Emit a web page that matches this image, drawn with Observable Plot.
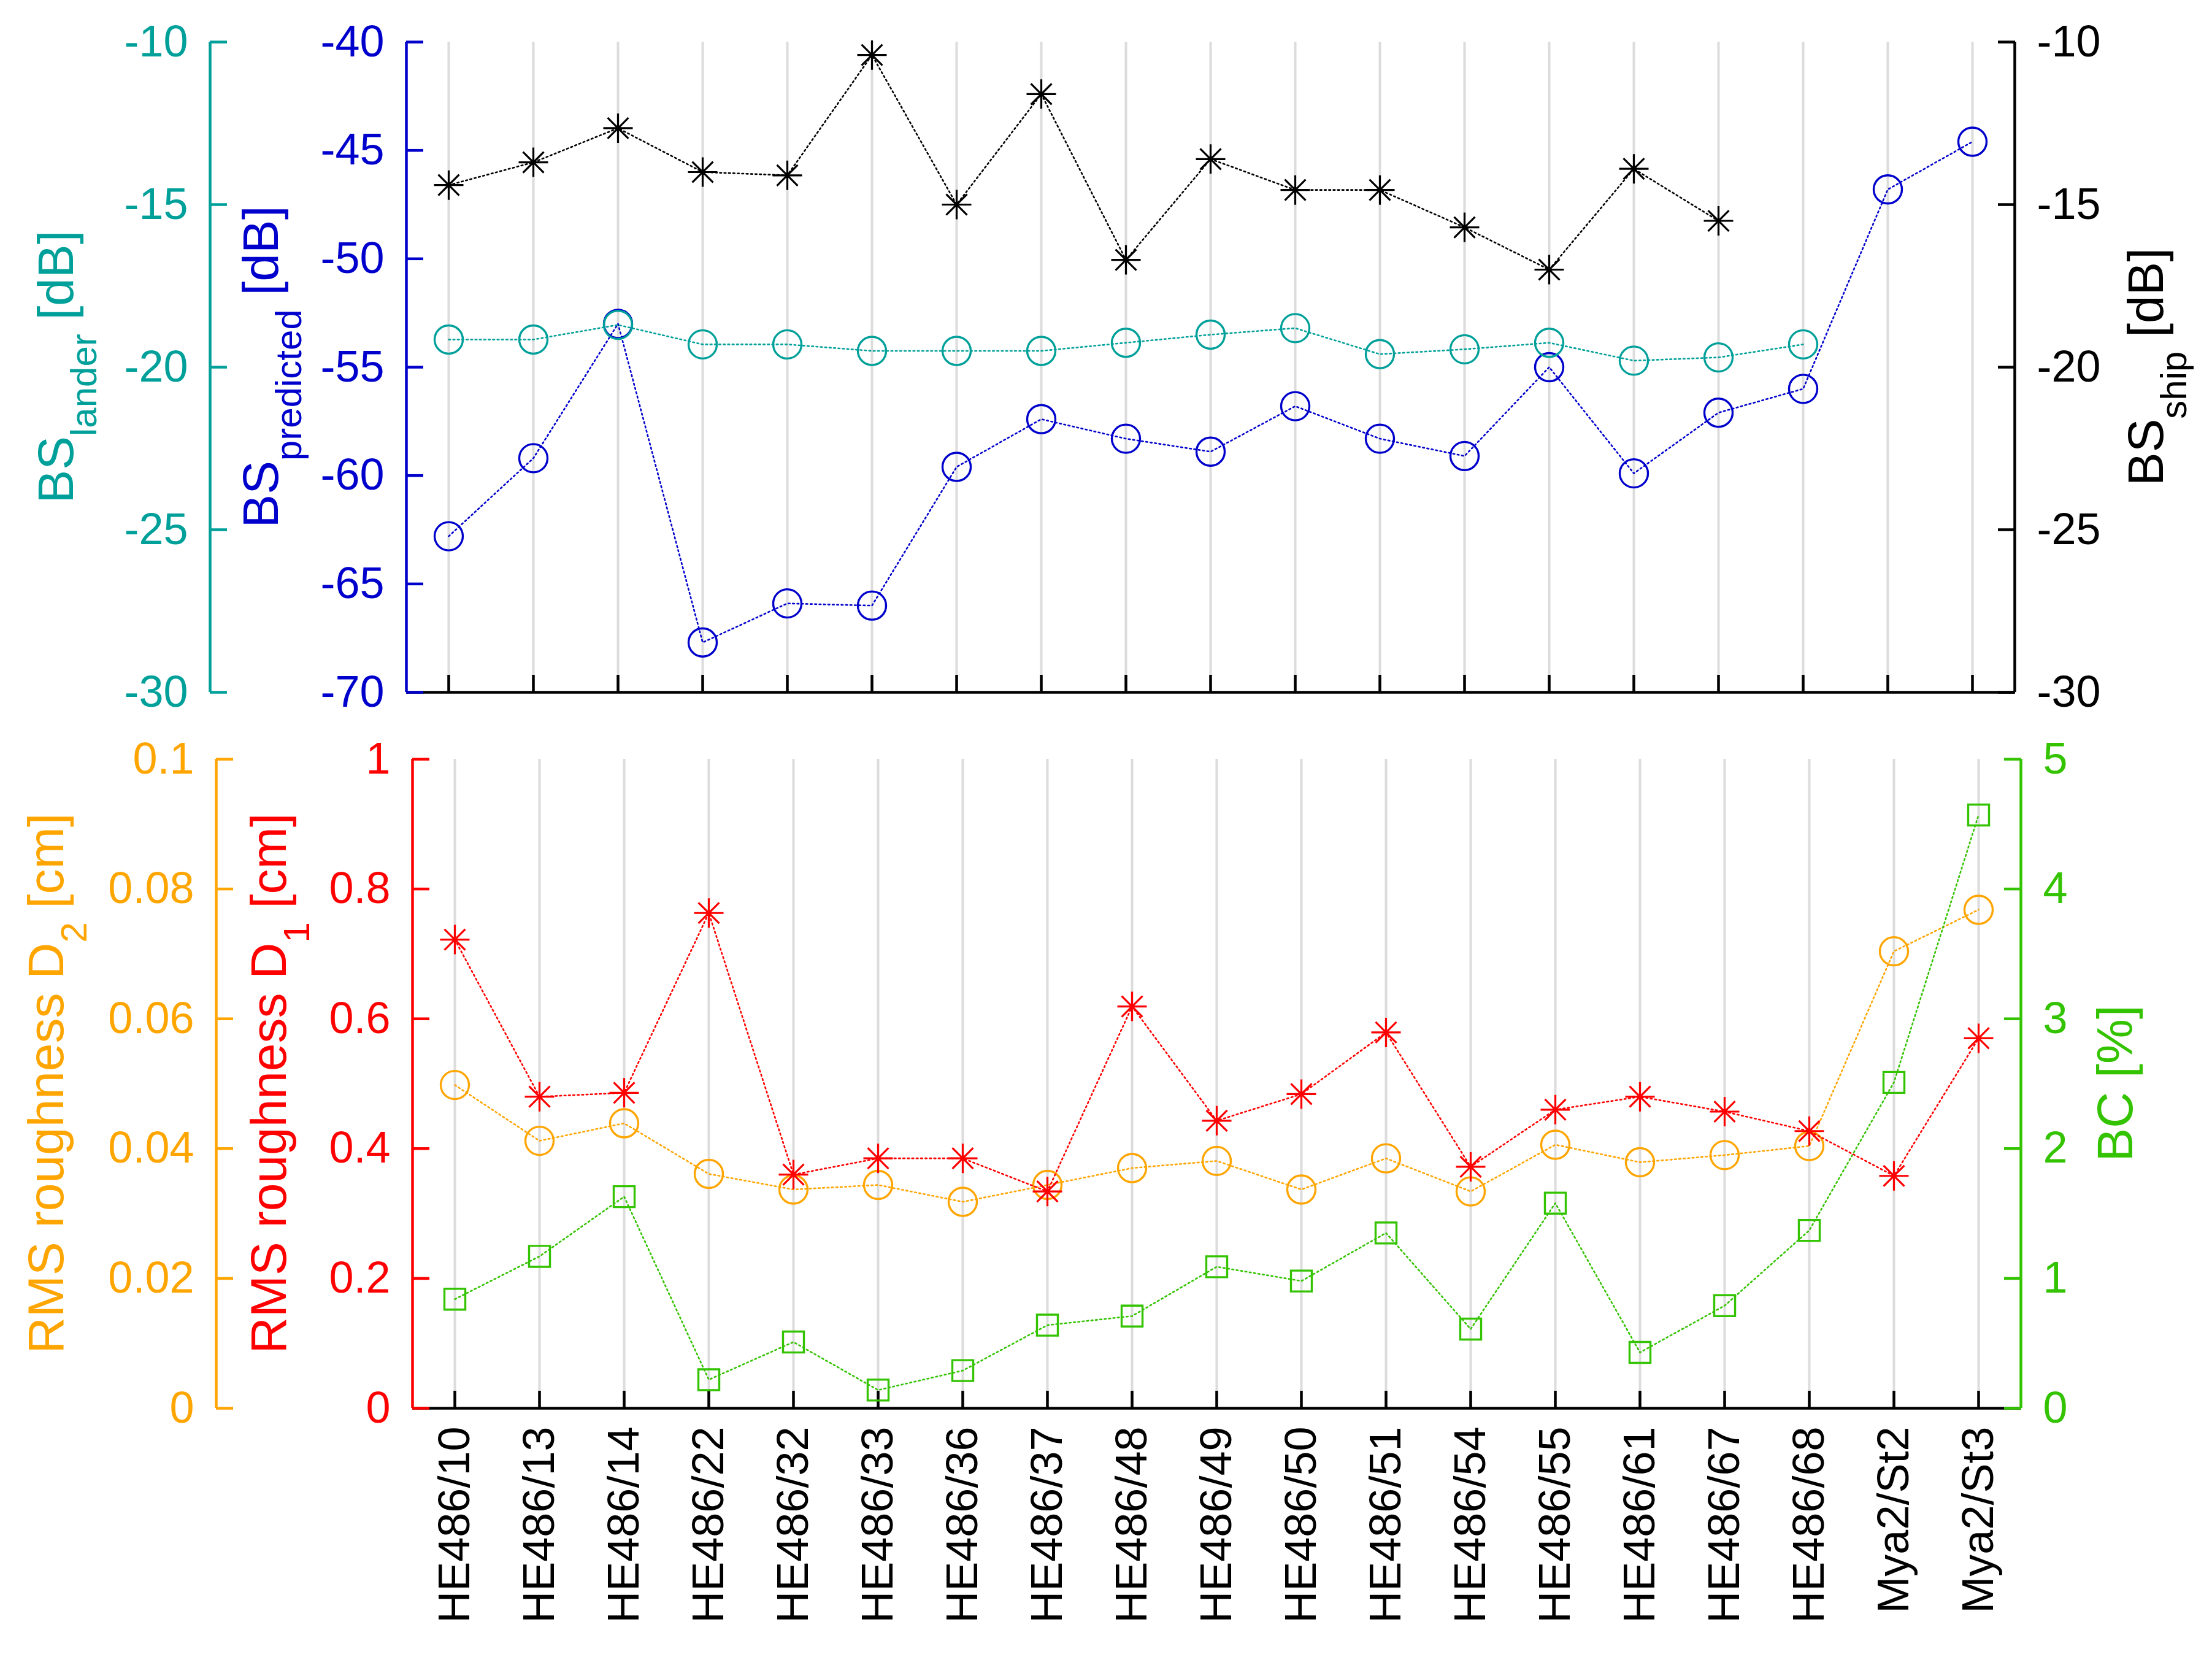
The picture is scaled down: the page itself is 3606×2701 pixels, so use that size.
<!DOCTYPE html>
<html><head><meta charset="utf-8">
<script src="https://cdn.jsdelivr.net/npm/d3@7"></script>
<script src="https://cdn.jsdelivr.net/npm/@observablehq/plot@0.6"></script>
<style>
html,body{margin:0;padding:0;background:#fff;}
#chart{position:relative;width:3606px;height:2701px;font-family:"Liberation Sans",Arial,Helvetica,sans-serif;overflow:hidden;}
#chart svg{position:absolute;left:0;top:0;}
.ylab{position:absolute;white-space:nowrap;font-size:82px;line-height:1;transform:translate(-50%,-50%) rotate(-90deg);}
.ylab sub{font-size:60px;vertical-align:-38px;line-height:1;}
</style></head><body><div id="chart"></div>
<script>
// ---- data ----
const stations = ["HE486/10","HE486/13","HE486/14","HE486/22","HE486/32","HE486/33","HE486/36","HE486/37","HE486/48","HE486/49","HE486/50","HE486/51","HE486/54","HE486/55","HE486/61","HE486/67","HE486/68","Mya2/St2","Mya2/St3"];
const bsPredicted = [-62.8,-59.2,-53.0,-67.7,-65.9,-66.0,-59.6,-57.4,-58.3,-58.9,-56.8,-58.3,-59.1,-55.0,-59.9,-57.1,-56.0,-46.8,-44.6];
const bsLander = [-19.15,-19.15,-18.7,-19.3,-19.3,-19.5,-19.5,-19.5,-19.25,-19.0,-18.8,-19.6,-19.45,-19.25,-19.8,-19.7,-19.3,null,null];
const bsShip = [-14.4,-13.7,-12.65,-14.0,-14.1,-10.4,-15.0,-11.6,-16.7,-13.6,-14.55,-14.55,-15.7,-17.0,-13.9,-15.5,null,null,null];
const rmsD1 = [0.722,0.480,0.486,0.763,0.360,0.385,0.385,0.334,0.619,0.443,0.484,0.579,0.372,0.460,0.480,0.457,0.427,0.358,0.570];
const rmsD2 = [0.0498,0.0412,0.0439,0.0361,0.0337,0.0344,0.0318,0.0344,0.0370,0.0381,0.0337,0.0385,0.0334,0.0406,0.0379,0.0390,0.0404,0.0704,0.0768];
const bc = [0.84,1.17,1.63,0.22,0.51,0.14,0.29,0.64,0.71,1.09,0.98,1.35,0.61,1.58,0.43,0.79,1.37,2.51,4.57];
const ticksLander = [-30,-25,-20,-15,-10];
const ticksPredicted = [-70,-65,-60,-55,-50,-45,-40];
const ticksShip = [-30,-25,-20,-15,-10];
const ticksD2 = [0,0.02,0.04,0.06,0.08,0.1];
const ticksD1 = [0,0.2,0.4,0.6,0.8,1];
const ticksBC = [0,1,2,3,4,5];

const rows = stations.map((s, i) => ({station: s, pred: bsPredicted[i], lander: bsLander[i], ship: bsShip[i], d1: rmsD1[i], d2: rmsD2[i], bc: bc[i]}));

// ---- style ----
const W = 3606, H = 2701;
const C = {teal: "#00A09A", blue: "#0000CC", black: "#000000", orange: "#FFA500", red: "#FF0000", green: "#33C300", grid: "#DCDCDC"};
const FONT = '"Liberation Sans", Arial, Helvetica, sans-serif';
const topF = {l: 662, r: 3284, t: 68, b: 1128, outer: 342};
const botF = {l: 672, r: 3294, t: 1237, b: 2295, outer: 352};
const TICK = 28, AXW = 4.5, TFS = 72;
const dash = {strokeWidth: 2.6, strokeDasharray: "2.6 4.6"};

const asterisk8 = {
  draw(ctx, size) {
    const r = Math.sqrt(size / Math.PI), d = r * Math.SQRT1_2;
    ctx.moveTo(-r, 0); ctx.lineTo(r, 0);
    ctx.moveTo(0, -r); ctx.lineTo(0, r);
    ctx.moveTo(-d, -d); ctx.lineTo(d, d);
    ctx.moveTo(-d, d); ctx.lineTo(d, -d);
  }
};

function geom(F) {
  const step = (F.r - F.l) / stations.length;
  return {step, first: F.l + step / 2, last: F.r - step / 2};
}

function overlay(F, leftPx, yDomain, showX, showY, marks) {
  const g = geom(F);
  const x = {type: "point", domain: stations, range: [g.first, g.last], padding: 0};
  if (!showX) x.axis = null;
  const y = {domain: yDomain};
  if (!showY) y.axis = null;
  return Plot.plot({
    width: W, height: H,
    marginLeft: leftPx, marginRight: W - F.r, marginTop: F.t, marginBottom: H - F.b,
    x, y,
    style: {background: "transparent", fontFamily: FONT, maxWidth: "none", overflow: "visible"},
    marks
  });
}

function yAxis(ticks, color, anchor) {
  return Plot.axisY(ticks, {
    anchor, tickSize: -TICK, tickPadding: TICK + 36, tickFormat: d => String(d),
    stroke: color, fill: color, strokeWidth: AXW, fontSize: TFS, label: null
  });
}
function leftLine(F, px, color) {
  const g = geom(F);
  return Plot.ruleX([stations[0]], {dx: px - g.first, stroke: color, strokeWidth: AXW});
}
function rightLine(F, color) {
  const g = geom(F);
  return Plot.ruleX([stations[stations.length - 1]], {dx: g.step / 2, stroke: color, strokeWidth: AXW});
}
function series(key, color, symbol, r, sw = 3.4) {
  return [
    Plot.line(rows, {x: "station", y: key, stroke: color, ...dash}),
    Plot.dot(rows, {x: "station", y: key, stroke: color, fill: "none", strokeWidth: sw, r, symbol})
  ];
}

const chart = document.getElementById("chart");

// ---- top panel ----
chart.appendChild(overlay(topF, topF.l, [-70, -40], true, true, [
  Plot.ruleX(stations, {stroke: C.grid, strokeWidth: 4}),
  Plot.axisX(stations, {anchor: "bottom", tickSize: -TICK, tickFormat: () => "", stroke: C.black, strokeWidth: AXW, label: null}),
  leftLine(topF, topF.l, C.blue),
  Plot.ruleY([-70], {stroke: C.black, strokeWidth: AXW}),
  yAxis(ticksPredicted, C.blue, "left"),
  ...series("pred", C.blue, "circle", 23)
]));
chart.appendChild(overlay(topF, topF.outer, [-30, -10], false, true, [
  leftLine(topF, topF.outer, C.teal),
  yAxis(ticksLander, C.teal, "left"),
  ...series("lander", C.teal, "circle", 23)
]));
chart.appendChild(overlay(topF, topF.l, [-30, -10], false, true, [
  rightLine(topF, C.black),
  yAxis(ticksShip, C.black, "right"),
  ...series("ship", C.black, asterisk8, 24, 3.2)
]));

// ---- bottom panel ----
chart.appendChild(overlay(botF, botF.l, [0, 1], true, true, [
  Plot.ruleX(stations, {stroke: C.grid, strokeWidth: 4}),
  Plot.axisX(stations, {anchor: "bottom", tickSize: -TICK, tickPadding: TICK + 30, tickRotate: -90, stroke: C.black, fill: C.black, strokeWidth: AXW, fontSize: TFS, label: null}),
  leftLine(botF, botF.l, C.red),
  Plot.ruleY([0], {stroke: C.black, strokeWidth: AXW}),
  yAxis(ticksD1, C.red, "left")
]));
chart.appendChild(overlay(botF, botF.outer, [0, 0.1], false, true, [
  leftLine(botF, botF.outer, C.orange),
  yAxis(ticksD2, C.orange, "left"),
  ...series("d2", C.orange, "circle", 23)
]));
chart.appendChild(overlay(botF, botF.l, [0, 5], false, true, [
  rightLine(botF, C.green),
  yAxis(ticksBC, C.green, "right"),
  ...series("bc", C.green, "square", 19.2)
]));
chart.appendChild(overlay(botF, botF.l, [0, 1], false, false, [
  ...series("d1", C.red, asterisk8, 24, 3.2)
]));

// ---- axis titles ----
function addLabel(html, color, cx, cy) {
  const d = document.createElement("div");
  d.className = "ylab";
  d.style.left = cx + "px"; d.style.top = cy + "px"; d.style.color = color;
  d.innerHTML = html;
  chart.appendChild(d);
}
addLabel("BS<sub>lander</sub> [dB]", C.teal, 108, 598);
addLabel("BS<sub>predicted</sub> [dB]", C.blue, 442, 598);
addLabel("BS<sub>ship</sub> [dB]", C.black, 3515, 598);
addLabel("RMS roughness D<sub>2</sub> [cm]", C.orange, 92, 1766);
addLabel("RMS roughness D<sub>1</sub> [cm]", C.red, 455, 1766);
addLabel("BC [%]", C.green, 3448, 1766);
</script></body></html>
